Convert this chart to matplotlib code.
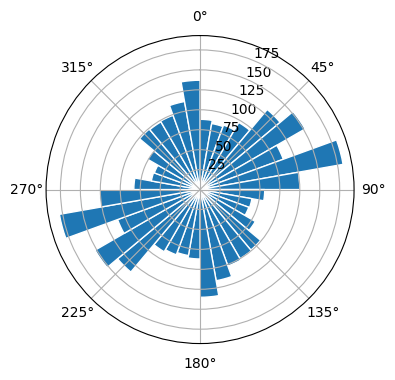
import numpy as np
import matplotlib
matplotlib.use("Agg")
import matplotlib.pyplot as plt

# bar heights, one per 10 degree sector, clockwise from north
radii = [88, 84, 86, 97, 131, 152, 111, 182, 125,
         81, 66, 65, 80, 99, 100, 102, 116, 135,
         87, 84, 87, 90, 135, 152, 110, 179, 126,
         83, 62, 61, 76, 99, 98, 99, 112, 137]
sector_start = np.arange(0, 360, 10)
r_ticks = [25, 50, 75, 100, 125, 150, 175]

fig = plt.figure(figsize=(4, 4))
ax = fig.add_subplot(111, projection='polar')
ax.set_theta_zero_location('N')
ax.set_theta_direction(-1)

theta = np.deg2rad(sector_start)
ax.bar(theta, radii, width=np.deg2rad(10), align='edge', edgecolor='white')

ax.set_ylim(0, 193)
ax.set_yticks(r_ticks)

fig.savefig('out.png', dpi=100, bbox_inches='tight')
